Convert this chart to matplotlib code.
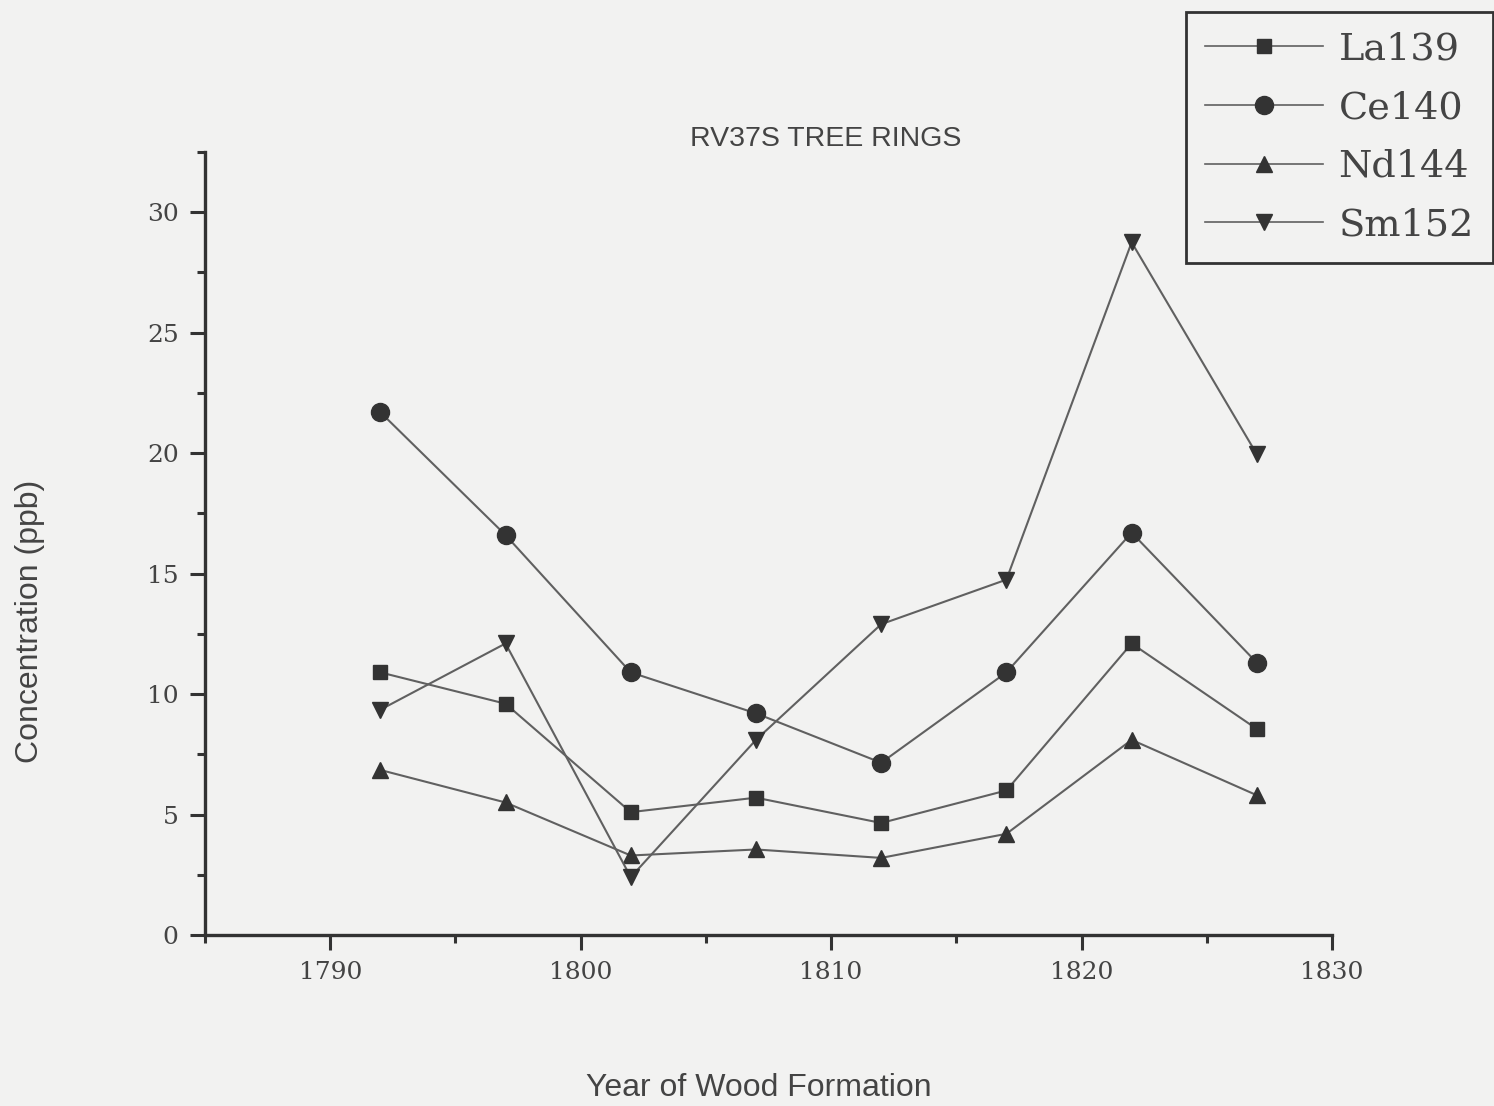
import numpy as np
import matplotlib.pyplot as plt
from matplotlib.ticker import MultipleLocator

# ring years and element concentrations (ppb)
years = [1792, 1797, 1802, 1807, 1812, 1817, 1822, 1827]
la139 = [10.9, 9.6, 5.1, 5.7, 4.65, 6.0, 12.1, 8.55]
ce140 = [21.7, 16.6, 10.9, 9.2, 7.15, 10.9, 16.7, 11.3]
nd144 = [6.85, 5.5, 3.3, 3.55, 3.2, 4.2, 8.1, 5.8]
sm152 = [9.35, 12.1, 2.4, 8.1, 12.9, 14.75, 28.75, 19.95]

bg = '#f2f2f1'
ink = '#333333'

fig = plt.figure(figsize=(14.94, 11.06), dpi=100, facecolor=bg)
ax = fig.add_axes([205/1494, 1-935/1106, (1332-205)/1494, (935-152)/1106])
ax.set_facecolor(bg)

series = [(la139, 's', 'La139', 10), (ce140, 'o', 'Ce140', 13),
          (nd144, '^', 'Nd144', 12), (sm152, 'v', 'Sm152', 12)]
for vals, mk, name, ms in series:
    ax.plot(years, vals, color='#606060', lw=1.5, marker=mk, ms=ms,
            mfc=ink, mec=ink, label=name)

ax.set_xlim(1785, 1830)
ax.set_ylim(0, 32.5)
ax.xaxis.set_major_locator(MultipleLocator(10))
ax.xaxis.set_minor_locator(MultipleLocator(5))
ax.yaxis.set_major_locator(MultipleLocator(5))
ax.yaxis.set_minor_locator(MultipleLocator(2.5))

for s in ['top', 'right']:
    ax.spines[s].set_visible(False)
for s in ['left', 'bottom']:
    ax.spines[s].set_linewidth(2.4)
    ax.spines[s].set_color(ink)

ax.tick_params(which='major', length=11, width=2.2, color=ink, pad=8,
               labelsize=18, labelcolor='#444444')
ax.tick_params(which='minor', length=6, width=2.2, color=ink)
for lab in ax.get_xticklabels() + ax.get_yticklabels():
    lab.set_fontfamily('DejaVu Serif')

sans = 'Liberation Sans'
fig.text(826/1494, 1-139/1106, 'RV37S TREE RINGS', ha='center', va='center',
         fontsize=20.5, family=sans, color='#444444')
fig.text(759/1494, 1-1088/1106, 'Year of Wood Formation', ha='center', va='center',
         fontsize=23, family=sans, color='#444444')
fig.text(30/1494, 1-621/1106, 'Concentration (ppb)', ha='center', va='center',
         rotation=90, fontsize=23, family=sans, color='#444444')

leg = ax.legend(loc='upper right', bbox_to_anchor=(1493/1494, 1-12/1106),
                bbox_transform=fig.transFigure, borderaxespad=0,
                prop={'family': 'DejaVu Serif', 'size': 27.5},
                handlelength=3.1, handletextpad=0.4, labelspacing=0.6,
                borderpad=0.5, fancybox=False, framealpha=1,
                edgecolor=ink, facecolor=bg)
leg.get_frame().set_linewidth(2)
for t in leg.get_texts():
    t.set_color('#444444')
for h in leg.legend_handles:
    h.set_linewidth(1.2)

fig.savefig('out.png', dpi=100, facecolor=bg)
